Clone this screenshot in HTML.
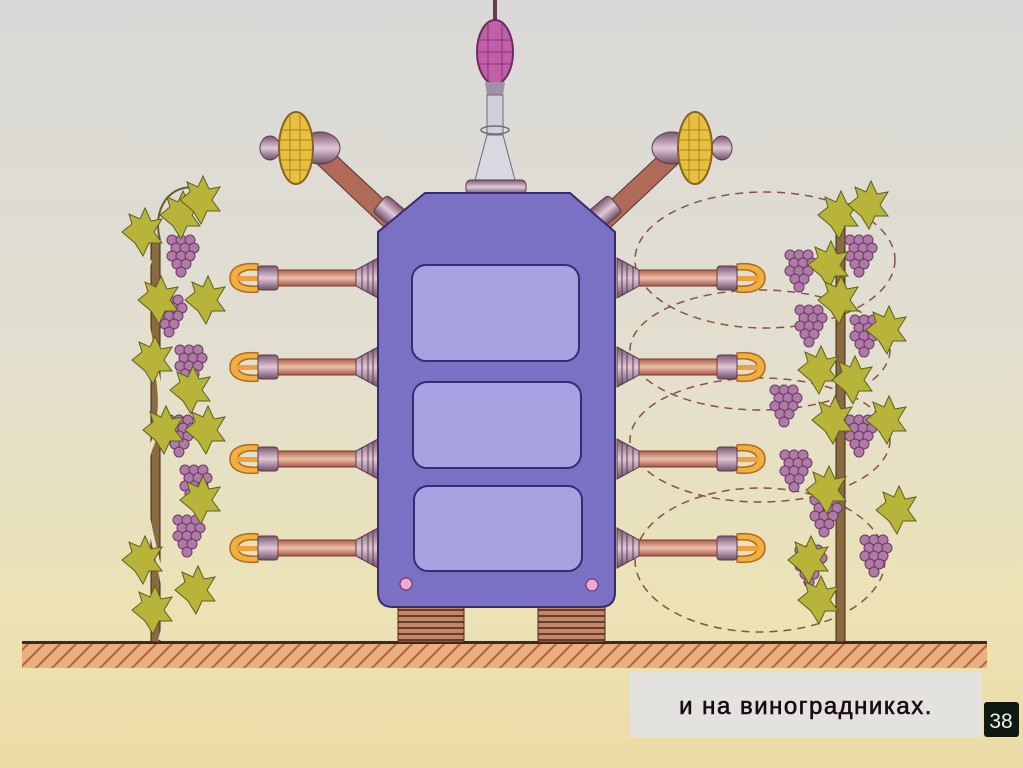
<!DOCTYPE html>
<html><head><meta charset="utf-8"><style>
html,body{margin:0;padding:0;width:1023px;height:768px;overflow:hidden}
svg{display:block}
</style></head><body>
<svg width="1023" height="768" viewBox="0 0 1023 768" xmlns="http://www.w3.org/2000/svg">
<defs>
<linearGradient id="bg" x1="0" y1="0" x2="0" y2="1">
<stop offset="0" stop-color="#d9d8d6"/><stop offset="0.45" stop-color="#e2dfd0"/><stop offset="0.8" stop-color="#ece2b4"/><stop offset="1" stop-color="#eedba6"/></linearGradient>
<linearGradient id="rod" x1="0" y1="0" x2="0" y2="1"><stop offset="0" stop-color="#a8604e"/><stop offset="0.5" stop-color="#f0c0a8"/><stop offset="1" stop-color="#a0584a"/></linearGradient>
<linearGradient id="rib" x1="0" y1="0" x2="0" y2="1"><stop offset="0" stop-color="#7a5870"/><stop offset="0.5" stop-color="#e0c8d8"/><stop offset="1" stop-color="#6e5068"/></linearGradient>
<pattern id="hatch" width="16" height="16" patternUnits="userSpaceOnUse"><rect width="16" height="16" fill="#e8b080"/><path d="M0 16L16 0M-4 4L4 -4M12 20L20 12" stroke="#b8603a" stroke-width="2"/></pattern>
<pattern id="feet" width="10" height="6" patternUnits="userSpaceOnUse"><rect width="10" height="6" fill="#c08868"/><rect y="3" width="10" height="2" fill="#6a3a2a"/></pattern>
<g id="arm">
<path d="M258 264 C240 262 230 268 230 278 C230 288 240 294 258 292 L258 286 C245 287 238 284 238 278 C238 272 245 269 258 270 Z" fill="#f0b040" stroke="#b06a20" stroke-width="1.5"/>
<path d="M236 276 L258 276 L258 281 L236 281Z" fill="#f0a040"/>
<rect x="258" y="266" width="20" height="24" rx="3" fill="url(#rib)" stroke="#5a3a50"/>
<rect x="278" y="270" width="78" height="16" fill="url(#rod)" stroke="#7a3a30" stroke-width="1"/>
<path d="M356 270 L378 258 L378 298 L356 286Z" fill="url(#rib)" stroke="#5a3a50"/>
<path d="M362 266V290M368 263V293M373 260V296" stroke="#5a3a50"/>
</g>
<g id="grapes" fill="#b07aa8" stroke="#6a3a60" stroke-width="1">
<circle cx="0" cy="0" r="5"/><circle cx="9" cy="0" r="5"/><circle cx="18" cy="0" r="5"/><circle cx="4" cy="8" r="5"/><circle cx="13" cy="8" r="5"/><circle cx="22" cy="8" r="5"/><circle cx="0" cy="16" r="5"/><circle cx="9" cy="16" r="5"/><circle cx="18" cy="16" r="5"/><circle cx="5" cy="24" r="5"/><circle cx="14" cy="24" r="5"/><circle cx="9" cy="32" r="5"/>
</g>
<path id="leaf" d="M0 0 L10 -8 L7 -18 L18 -13 L23 -24 L29 -11 L40 -13 L32 0 L40 11 L27 11 L21 24 L13 11 Z" fill="#b8b43a" stroke="#5a6020" stroke-width="1"/>
</defs>
<rect width="1023" height="768" fill="url(#bg)"/>

<!-- ground -->
<rect x="22" y="643" width="965" height="25" fill="url(#hatch)"/>
<rect x="22" y="641" width="965" height="3" fill="#3a2a20"/>

<!-- left vine -->
<rect x="151" y="240" width="9" height="402" fill="#8a6a40" stroke="#3a2a10"/>
<path d="M150 260 C130 330 180 380 150 450 C130 520 180 580 160 640" stroke="#e8e0c0" stroke-width="4" fill="none"/>
<path d="M160 240 C150 200 180 180 200 190" stroke="#6a5a30" stroke-width="2" fill="none"/>
<use href="#grapes" x="172" y="240"/><use href="#grapes" x="160" y="300"/><use href="#grapes" x="180" y="350"/>
<use href="#grapes" x="170" y="420"/><use href="#grapes" x="185" y="470"/><use href="#grapes" x="178" y="520"/>
<use href="#leaf" x="122" y="232"/><use href="#leaf" x="160" y="215"/><use href="#leaf" x="180" y="200"/>
<use href="#leaf" x="138" y="300"/><use href="#leaf" x="185" y="300"/><use href="#leaf" x="132" y="360"/>
<use href="#leaf" x="170" y="390"/><use href="#leaf" x="143" y="430"/><use href="#leaf" x="185" y="430"/>
<use href="#leaf" x="180" y="500"/><use href="#leaf" x="122" y="560"/><use href="#leaf" x="175" y="590"/><use href="#leaf" x="132" y="610"/>

<!-- right vine -->
<g fill="none" stroke="#8a5048" stroke-width="1.5" stroke-dasharray="8 6">
<ellipse cx="765" cy="260" rx="130" ry="68"/>
<ellipse cx="760" cy="350" rx="130" ry="60"/>
<ellipse cx="760" cy="440" rx="130" ry="62"/>
<ellipse cx="760" cy="560" rx="125" ry="72"/>
</g>
<rect x="836" y="215" width="9" height="427" fill="#8a6a40" stroke="#3a2a10"/>
<use href="#grapes" x="790" y="255"/><use href="#grapes" x="850" y="240"/><use href="#grapes" x="800" y="310"/>
<use href="#grapes" x="855" y="320"/><use href="#grapes" x="775" y="390"/><use href="#grapes" x="850" y="420"/>
<use href="#grapes" x="785" y="455"/><use href="#grapes" x="815" y="500"/><use href="#grapes" x="865" y="540"/><use href="#grapes" x="800" y="550"/>
<use href="#leaf" x="818" y="215"/><use href="#leaf" x="848" y="205"/><use href="#leaf" x="808" y="265"/>
<use href="#leaf" x="818" y="300"/><use href="#leaf" x="866" y="330"/><use href="#leaf" x="798" y="370"/>
<use href="#leaf" x="832" y="380"/><use href="#leaf" x="812" y="420"/><use href="#leaf" x="866" y="420"/>
<use href="#leaf" x="806" y="490"/><use href="#leaf" x="876" y="510"/><use href="#leaf" x="788" y="560"/><use href="#leaf" x="798" y="600"/>

<!-- side ears -->
<path d="M325 145 L400 215 L385 228 L313 160Z" fill="#b06a58" stroke="#5a3030"/>
<rect x="375" y="205" width="40" height="22" rx="4" fill="url(#rib)" transform="rotate(40 395 216)" stroke="#5a3a50"/>
<ellipse cx="320" cy="148" rx="20" ry="16" fill="url(#rib)" stroke="#5a3a50"/>
<ellipse cx="270" cy="148" rx="10" ry="12" fill="url(#rib)" stroke="#5a3a50"/>
<ellipse cx="296" cy="148" rx="17" ry="36" fill="#e8c040" stroke="#8a6020" stroke-width="2"/>
<path d="M282 130H310M280 140H312M280 150H312M280 160H312M282 170H310M290 115V182M300 115V182" stroke="#b08020" stroke-width="1"/>

<path d="M670 145 L595 215 L610 228 L682 160Z" fill="#b06a58" stroke="#5a3030"/>
<rect x="580" y="205" width="40" height="22" rx="4" fill="url(#rib)" transform="rotate(-40 600 216)" stroke="#5a3a50"/>
<ellipse cx="672" cy="148" rx="20" ry="16" fill="url(#rib)" stroke="#5a3a50"/>
<ellipse cx="722" cy="148" rx="10" ry="12" fill="url(#rib)" stroke="#5a3a50"/>
<ellipse cx="695" cy="148" rx="17" ry="36" fill="#e8c040" stroke="#8a6020" stroke-width="2"/>
<path d="M681 130H709M679 140H711M679 150H711M679 160H711M681 170H709M689 115V182M699 115V182" stroke="#b08020" stroke-width="1"/>

<!-- antenna -->
<rect x="493" y="0" width="4" height="22" fill="#6a3a50"/>
<ellipse cx="495" cy="52" rx="18" ry="32" fill="#c060a8" stroke="#6a2a60" stroke-width="2"/>
<path d="M478 40H512M477 52H513M478 64H512M488 24V80M502 24V80" stroke="#8a3080" stroke-width="1"/>
<path d="M485 82 L505 82 L503 95 L487 95Z" fill="#a090a8"/>
<rect x="487" y="95" width="16" height="40" fill="#d0d0d8" stroke="#6a6a80"/>
<path d="M487 135 L503 135 L515 180 L475 180Z" fill="#d8d8e0" stroke="#6a6a80"/>
<ellipse cx="495" cy="130" rx="14" ry="4" fill="none" stroke="#6a6a80" stroke-width="1.5"/>
<rect x="466" y="180" width="60" height="14" rx="5" fill="url(#rib)" stroke="#5a3a50"/>

<!-- arms -->
<use href="#arm"/>
<use href="#arm" y="89"/>
<use href="#arm" y="181"/>
<use href="#arm" y="270"/>
<g transform="translate(995 0) scale(-1 1)">
<use href="#arm"/><use href="#arm" y="89"/><use href="#arm" y="181"/><use href="#arm" y="270"/>
</g>

<!-- feet -->
<rect x="398" y="603" width="66" height="39" fill="url(#feet)" stroke="#4a2a20"/>
<rect x="538" y="603" width="67" height="39" fill="url(#feet)" stroke="#4a2a20"/>

<!-- body -->
<path d="M425 193 L570 193 L615 232 L615 592 Q615 607 600 607 L393 607 Q378 607 378 592 L378 232Z" fill="#7a70c4" stroke="#3a2a70" stroke-width="2"/>
<rect x="412" y="265" width="167" height="96" rx="14" fill="#a8a2e2" stroke="#3a2a70" stroke-width="2"/>
<rect x="413" y="382" width="168" height="86" rx="14" fill="#a8a2e2" stroke="#3a2a70" stroke-width="2"/>
<rect x="414" y="486" width="168" height="85" rx="14" fill="#a8a2e2" stroke="#3a2a70" stroke-width="2"/>
<circle cx="406" cy="584" r="6" fill="#f0a8d0" stroke="#6a2a60"/>
<circle cx="592" cy="585" r="6" fill="#f0a8d0" stroke="#6a2a60"/>

<!-- caption -->
<rect x="630" y="672" width="352" height="66" fill="#e4e2de"/>
<text x="806" y="714" text-anchor="middle" font-family="'Liberation Sans', sans-serif" font-size="24" fill="#1a0a14" stroke="#1a0a14" stroke-width="0.6" letter-spacing="1.5">и на виноградниках.</text>
<rect x="984" y="702" width="35" height="35" rx="3" fill="#0e1a12"/>
<text x="1001" y="728" text-anchor="middle" font-family="'Liberation Sans', sans-serif" font-size="21" fill="#f0f0e8">38</text>
</svg>
</body></html>
